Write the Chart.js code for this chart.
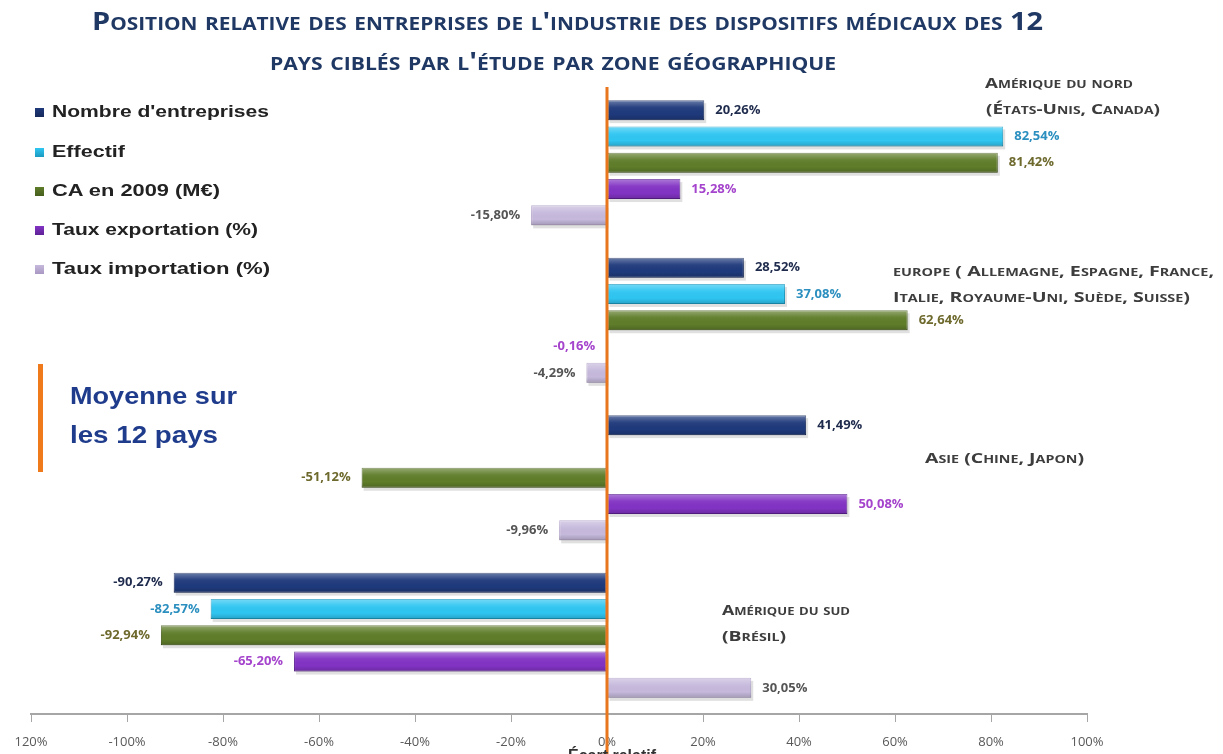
<!DOCTYPE html>
<html><head><meta charset="utf-8">
<script src="https://cdn.jsdelivr.net/npm/chart.js@4"></script>
<style>
html,body{margin:0;padding:0;background:#fff;overflow:hidden;width:1223px;height:754px}
#wrap{position:relative;width:1223px;height:754px}
canvas{position:absolute;left:0;top:0}
.t{position:absolute;white-space:nowrap;transform-origin:0 0;line-height:1}
.title{font-family:"Open Sans";font-weight:700;font-variant:small-caps;color:#1f3864;font-size:25px}
.ann{font-family:"Open Sans";font-weight:700;font-variant:small-caps;color:#3d3d3d;font-size:15px}
.leg{font-family:"Liberation Sans";font-weight:700;color:#222;font-size:17px}
.sq{position:absolute;width:9px;height:9px}
.moy{font-family:"Liberation Sans";font-weight:700;color:#1f3c8c;font-size:24px}
</style></head><body>
<div id="wrap"><canvas id="c" width="1223" height="754"></canvas></div>
<script>
// ---- data ----
const categories = ['Amérique du Nord', 'Europe', 'Asie', 'Amérique du Sud'];
const seriesNames = ["Nombre d'entreprises", "Effectif", "CA en 2009 (M€)", "Taux exportation (%)", "Taux importation (%)"];
const nombre = [20.26, 28.52, 41.49, -90.27];
const effectif = [82.54, 37.08, null, -82.57];
const ca2009 = [81.42, 62.64, -51.12, -92.94];
const exportation = [15.28, -0.16, 50.08, -65.20];
const importation = [-15.80, -4.29, -9.96, 30.05];
const tickValues = [-120, -100, -80, -60, -40, -20, 0, 20, 40, 60, 80, 100];
const tickLabels = ['120%', '-100%', '-80%', '-60%', '-40%', '-20%', '0%', '20%', '40%', '60%', '80%', '100%'];
const axisTitle = 'Écart relatif';

// ---- styles ----
const barColors = ['#1f3a7c', '#2fc6f2', '#5f7d2a', '#8233c4', '#c6b9dc'];
const barBorders = ['#15295a', '#1b9ac0', '#465e1c', '#5e2195', '#a897c2'];
const labelColors = ['#1f2b4d', '#2b8fbf', '#6e6a2e', '#a544cc', '#555555'];

const seriesData = [nombre, effectif, ca2009, exportation, importation];

const fmt = v => v.toFixed(2).replace('.', ',') + '%';

const extras = {
  id: 'extras',
  beforeDatasetsDraw(chart) {
    const ctx = chart.ctx;
    chart.data.datasets.forEach((ds, i) => {
      chart.getDatasetMeta(i).data.forEach((el, j) => {
        const v = ds.data[j];
        if (v === null || v === undefined) return;
        const p = el.getProps(['x', 'y', 'base', 'height'], true);
        const l = Math.min(p.x, p.base), r = Math.max(p.x, p.base);
        ctx.save();
        ctx.fillStyle = 'rgba(0,0,0,0.12)';
        ctx.fillRect(l + 2, p.y - p.height / 2 + 3, r - l, p.height);
        ctx.restore();
      });
    });
  },
  afterDatasetsDraw(chart) {
    const ctx = chart.ctx;
    chart.data.datasets.forEach((ds, i) => {
      const meta = chart.getDatasetMeta(i);
      meta.data.forEach((el, j) => {
        const v = ds.data[j];
        if (v === null || v === undefined) return;
        const p = el.getProps(['x', 'y', 'base', 'height'], true);
        const l = Math.min(p.x, p.base), r = Math.max(p.x, p.base);
        const t = p.y - p.height / 2, h = p.height;
        const g = ctx.createLinearGradient(0, t, 0, t + h);
        g.addColorStop(0, 'rgba(255,255,255,0.35)');
        g.addColorStop(0.35, 'rgba(255,255,255,0.05)');
        g.addColorStop(0.7, 'rgba(0,0,0,0.0)');
        g.addColorStop(1, 'rgba(0,0,0,0.18)');
        ctx.save();
        ctx.fillStyle = g;
        ctx.fillRect(l, t, r - l, h);
        ctx.restore();
        ctx.save();
        ctx.font = 'bold 13px "Open Sans"';
        ctx.fillStyle = labelColors[i];
        ctx.textBaseline = 'middle';
        if (v >= 0) { ctx.textAlign = 'left'; ctx.fillText(fmt(v), p.x + 11, p.y); }
        else { ctx.textAlign = 'right'; ctx.fillText(fmt(v), p.x - 11, p.y); }
        ctx.restore();
      });
    });
  },
  afterDraw(chart) {
    const ctx = chart.ctx;
    const xs = chart.scales.x;
    const x0 = xs.getPixelForValue(0);
    ctx.save();
    ctx.strokeStyle = '#e8761e';
    ctx.lineWidth = 3;
    ctx.beginPath();
    ctx.moveTo(x0, chart.chartArea.top + 3);
    ctx.lineTo(x0, 760);
    ctx.stroke();
    ctx.font = 'bold 16px "Liberation Sans"';
    ctx.fillStyle = '#333';
    ctx.textAlign = 'center';
    ctx.textBaseline = 'top';
    ctx.fillText(axisTitle, x0 + 5, 749);
    ctx.restore();
  }
};

new Chart(document.getElementById('c'), {
  type: 'bar',
  data: {
    labels: categories,
    datasets: seriesNames.map((n, i) => ({
      label: n,
      data: seriesData[i],
      backgroundColor: barColors[i],
      borderColor: barBorders[i],
      borderWidth: 1,
      borderSkipped: false,
      barPercentage: 0.76,
      categoryPercentage: 0.835
    }))
  },
  options: {
    indexAxis: 'y',
    responsive: false,
    animation: false,
    devicePixelRatio: 1,
    layout: { padding: { left: 31, right: 136, top: 84, bottom: 0 } },
    plugins: { legend: { display: false }, tooltip: { enabled: false }, title: { display: false } },
    scales: {
      x: {
        min: -120, max: 100,
        afterBuildTicks: s => { s.ticks = tickValues.map(v => ({ value: v })); },
        afterFit: s => { s.height = 40; },
        ticks: {
          callback: v => tickLabels[tickValues.indexOf(v)],
          font: { family: 'Open Sans', size: 13 },
          color: '#595959',
          padding: 12,
          maxRotation: 0,
          autoSkip: false
        },
        grid: { drawOnChartArea: false, drawTicks: true, tickLength: 8, color: '#a6a6a6' },
        border: { display: true, color: '#a6a6a6', width: 2 }
      },
      y: { display: false }
    }
  },
  plugins: [extras]
});

// ---- text overlays ----
const wrap = document.getElementById('wrap');
function addText(cls, txt, left, cy, w) {
  const d = document.createElement('div');
  d.className = 't ' + cls;
  d.textContent = txt;
  wrap.appendChild(d);
  const fs = parseFloat(getComputedStyle(d).fontSize);
  d.style.left = left + 'px';
  d.style.top = (cy - fs * 0.55) + 'px';
  if (w) {
    const mw = d.getBoundingClientRect().width;
    d.style.transform = 'scaleX(' + (w / mw) + ')';
  }
  return d;
}
addText('title', "Position relative des entreprises de l'industrie des dispositifs médicaux des 12", 92, 22, 951);
addText('title', "pays ciblés par l'étude par zone géographique", 270, 62, 566);
addText('ann', 'Amérique du nord', 985, 83, 148);
addText('ann', '(États-Unis, Canada)', 986, 109, 174);
addText('ann', 'europe ( Allemagne, Espagne, France,', 893, 271, 321);
addText('ann', 'Italie, Royaume-Uni, Suède, Suisse)', 893, 297, 297);
addText('ann', 'Asie (Chine, Japon)', 925, 458, 159);
addText('ann', 'Amérique du sud', 722, 610, 128);
addText('ann', '(Brésil)', 722, 636, 64);
addText('moy', 'Moyenne sur', 70, 397, 167);
addText('moy', 'les 12 pays', 70, 436, 148);
const ob = document.createElement('div');
ob.style.cssText = 'position:absolute;left:38px;top:364px;width:5px;height:108px;background:#ee7a1c';
wrap.appendChild(ob);
const legY = [112, 152, 191, 230, 269];
seriesNames.forEach((n, i) => {
  const sq = document.createElement('div');
  sq.className = 'sq';
  sq.style.left = '35px';
  sq.style.top = (legY[i] - 4) + 'px';
  sq.style.background = 'linear-gradient(' + barColors[i] + ',' + barBorders[i] + ')';
  wrap.appendChild(sq);
  addText('leg', n, 52, legY[i], [217, 73, 168, 206, 218][i]);
});
</script>
</body></html>
